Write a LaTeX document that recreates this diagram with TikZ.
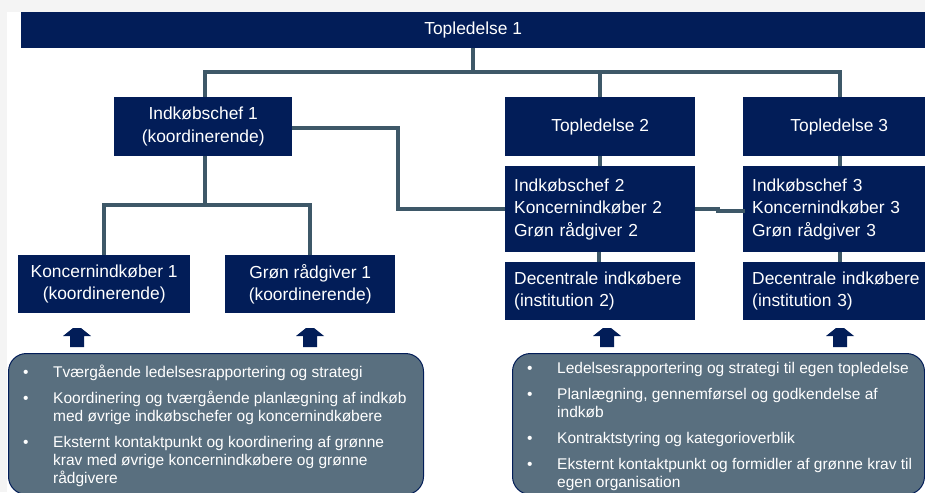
\documentclass[tikz,border=0pt]{standalone}
\usepackage{fontspec}
\setmainfont{Liberation Sans}
\usepackage{xcolor}
\usepackage{tikz}
\usetikzlibrary{calc}
\definecolor{boxnavy}{RGB}{2,29,88}
\definecolor{linkslate}{RGB}{62,88,104}
\definecolor{notefill}{RGB}{89,111,127}
\definecolor{pagegray}{RGB}{244,244,244}

\begin{document}
\begin{tikzpicture}[
    x=1pt, y=-1pt,
    orgbox/.style={fill=boxnavy, text=white, inner sep=0pt, anchor=north west,
        font=\fontsize{17.4}{22.5}\selectfont, align=center},
    listbox/.style={orgbox, align=left, inner xsep=9pt},
    notebox/.style={rounded corners=18pt, draw=boxnavy, fill=notefill,
        line width=1pt, anchor=north west, inner sep=0pt},
    notetext/.style={text=white, inner sep=0pt, anchor=base west,
        font=\fontsize{15.5}{18}\selectfont},
    conn/.style={draw=linkslate, line width=4pt},
    uparrow/.style={fill=boxnavy},
]

\useasboundingbox (0,0) rectangle (925,492);
\clip (0,0) rectangle (925,492);
\fill[pagegray] (0,0) rectangle (925,492);
\fill[white] (7,12) rectangle (925,492);

% === Top level ===
\node[orgbox, minimum width=904pt, minimum height=36pt] (top1) at (21,12) {Topledelse 1};

% === Second level ===
\node[orgbox, minimum width=178pt, minimum height=59pt] (ind1) at (114,97) {Indkøbschef 1\\(koordinerende)};
\node[orgbox, minimum width=190pt, minimum height=59pt] (top2) at (505,97) {Topledelse 2};
\node[orgbox, minimum width=192pt, minimum height=59pt] (top3) at (743,97) {Topledelse 3};

% === Third level ===
\node[orgbox, minimum width=172pt, minimum height=58pt] (kon1) at (18,255) {Koncernindkøber 1\\(koordinerende)};
\node[orgbox, minimum width=170pt, minimum height=58pt] (groen1) at (225,255) {Grøn rådgiver 1\\(koordinerende)};
\node[listbox, text width=172pt, minimum height=86pt] (ind2) at (505,166) {Indkøbschef 2\\Koncernindkøber 2\\Grøn rådgiver 2};
\node[listbox, text width=174pt, minimum height=86pt] (ind3) at (743,166) {Indkøbschef 3\\Koncernindkøber 3\\Grøn rådgiver 3};
\node[listbox, text width=172pt, minimum height=58pt] (dec2) at (505,262) {Decentrale indkøbere\\(institution 2)};
\node[listbox, text width=174pt, minimum height=58pt] (dec3) at (743,262) {Decentrale indkøbere\\(institution 3)};

% Connectors
\draw[conn] (top1.south) -- ++(0,24) coordinate (bus);
\draw[conn] ([xshift=2pt]ind1.north) |- (bus) -| (top2.north);
\draw[conn] (bus) -| ([xshift=1pt]top3.north);
\draw[conn] ([yshift=-1pt]ind1.east) -- ++(106,0) |- (ind2.west);
\draw[conn] ([xshift=2pt]ind1.south) -- ++(0,49) coordinate (sub);
\draw[conn] (kon1.north) |- (sub) -| (groen1.north);
\draw[conn] (top2.south) -- (ind2.north);
\draw[conn] ([xshift=1pt]top3.south) -- ([xshift=1pt]ind3.north);
\draw[conn] ([xshift=-1pt]ind2.south) -- ([xshift=-1pt]dec2.north);
\draw[conn] ([xshift=1pt]ind3.south) -- ([xshift=1pt]dec3.north);
\draw[conn] (ind2.east) -- ++(23,0) -- ++(0,2) -| (ind3.west);

% Up arrows
\foreach \ax in {77,310,607,840}
    \fill[uparrow] (\ax-4,328) -- (\ax+4,328) -- (\ax+14,336) -- (\ax+7,336)
        -- (\ax+7,347) -- (\ax-7,347) -- (\ax-7,336) -- (\ax-14,336) -- cycle;

% === Notes ===
\node[notebox, minimum width=415pt, minimum height=141pt] (leftnote) at (8,353) {};
\node[notebox, minimum width=412pt, minimum height=141pt] (rightnote) at (512,353) {};

\node[notetext] (leftlist) at (23,377) {\begin{tabular}[t]{@{}p{30pt}@{}l@{}}
\textbullet & Tværgående ledelsesrapportering og strategi\\[8pt]
\textbullet & Koordinering og tværgående planlægning af indkøb\\
 & med øvrige indkøbschefer og koncernindkøbere\\[8pt]
\textbullet & Eksternt kontaktpunkt og koordinering af grønne\\
 & krav med øvrige koncernindkøbere og grønne\\
 & rådgivere
\end{tabular}};

\node[notetext] (rightlist) at (527,373) {\begin{tabular}[t]{@{}p{30pt}@{}l@{}}
\textbullet & Ledelsesrapportering og strategi til egen topledelse\\[8pt]
\textbullet & Planlægning, gennemførsel og godkendelse af\\
 & indkøb\\[8pt]
\textbullet & Kontraktstyring og kategorioverblik\\[8pt]
\textbullet & Eksternt kontaktpunkt og formidler af grønne krav til\\
 & egen organisation
\end{tabular}};

\end{tikzpicture}
\end{document}
